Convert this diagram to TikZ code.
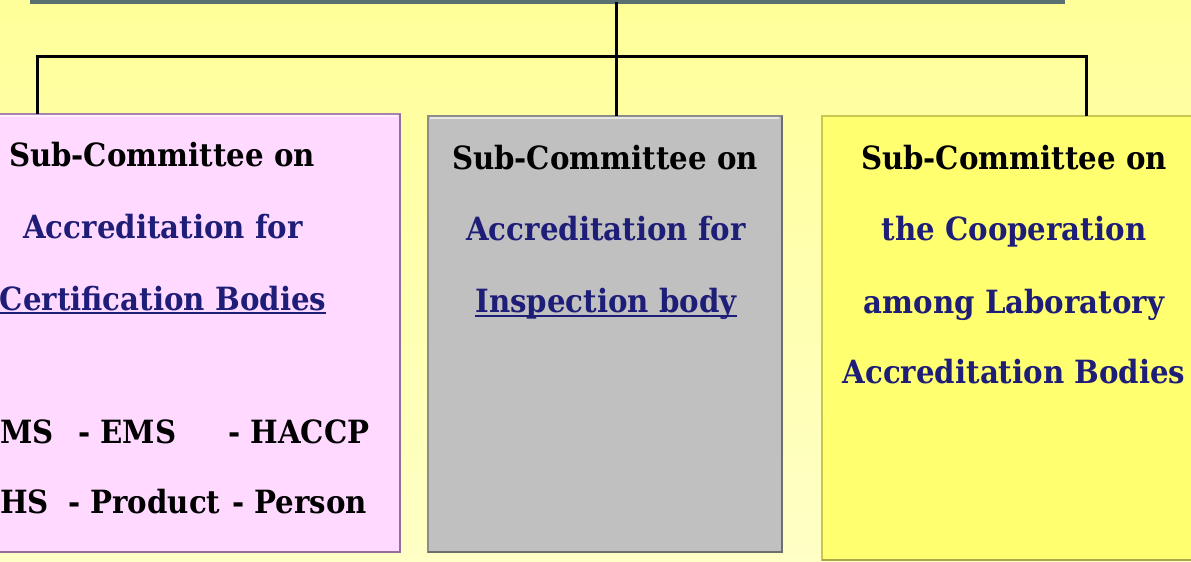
\documentclass[tikz,border=0pt]{standalone}
\usepackage{fontspec}
\newfontfamily\boxfont{DejaVu Serif}[FakeStretch=0.914]
\definecolor{bgtop}{RGB}{255,255,153}
\definecolor{bgbot}{RGB}{255,255,198}
\definecolor{topline}{RGB}{88,112,112}
\definecolor{pinkfill}{RGB}{255,217,255}
\definecolor{pinkedge}{RGB}{170,130,175}
\definecolor{pinkdark}{RGB}{150,110,155}
\definecolor{grayfill}{RGB}{192,192,192}
\definecolor{grayedge}{RGB}{140,140,140}
\definecolor{graydark}{RGB}{110,110,110}
\definecolor{yelfill}{RGB}{255,255,112}
\definecolor{yeledge}{RGB}{200,200,80}
\definecolor{yeldark}{RGB}{168,168,72}
\definecolor{navytext}{RGB}{30,30,120}
\tikzset{
  panel/.style={rectangle, inner sep=0pt, outer sep=0pt, anchor=north west, line width=1.2pt},
  wire/.style={line width=3pt, black},
  txt/.style={font=\boxfont\bfseries\fontsize{32}{32}\selectfont, inner sep=0pt, anchor=base},
  navy/.style={txt, text=navytext},
  ul/.style={line width=1.3pt, navytext},
}
\begin{document}
\begin{tikzpicture}[x=1pt, y=-1pt]
\useasboundingbox (0,0) rectangle (1191,562);
\shade[top color=bgtop, bottom color=bgbot] (0,0) rectangle (1191,562);

% top box (only its lower edge is visible)
\node[panel, draw=topline, fill=bgtop, line width=3.5pt, minimum width=1031pt, minimum height=40pt, anchor=south west] (top) at (32,2) {};

% panels
\node[panel, draw=pinkedge, fill=pinkfill, minimum width=460pt, minimum height=438pt] (pink) at (-60,114) {};
\node[panel, draw=grayedge, fill=grayfill, minimum width=354pt, minimum height=436pt] (gray) at (428,116) {};
\node[panel, draw=yeledge, fill=yelfill, minimum width=420pt, minimum height=444pt] (yellow) at (822,116) {};
% bevel shadows
\draw[pinkdark, line width=2.5pt] (pink.north east) -- (pink.south east) -- (pink.south west);
\draw[graydark, line width=2.5pt] (gray.north east) -- (gray.south east) -- (gray.south west);
\draw[yeldark, line width=2.5pt] (yellow.south west) -- (yellow.south east);
\draw[white, line width=1.5pt, opacity=0.6] ([yshift=-2pt]pink.north west) -- ([xshift=-3pt,yshift=-2pt]pink.north east);
\draw[white, line width=1.5pt, opacity=0.6] ([xshift=2pt,yshift=-2pt]gray.north west) -- ([xshift=-3pt,yshift=-2pt]gray.north east);

% connectors
\coordinate (jc) at (616,56);
\coordinate (jl) at (37,56);
\coordinate (jr) at (1086,56);
\draw[wire] (top.south -| jc) -- (gray.north -| jc);
\draw[wire] (pink.north -| jl) -- (jl) -- (jr) -- (yellow.north -| jr);

% pink texts
\node[txt] (p1) at (162,166) {Sub-Committee on};
\node[navy] (p2) at (163,238) {Accreditation for};
\node[navy] (p3) at (163,310) {Certification Bodies};
\draw[ul] ([yshift=-3pt]p3.base west) -- ([yshift=-3pt]p3.base east);
\node[txt, anchor=base west] (p4a) at (0,443) {MS};
\node[txt, anchor=base west] (p4b) at (78,443) {- EMS};
\node[txt, anchor=base west] (p4c) at (228,443) {- HACCP};
\node[txt, anchor=base west] (p5a) at (0,513) {HS};
\node[txt, anchor=base west] (p5b) at (68,513) {- Product};
\node[txt, anchor=base west] (p5c) at (232,513) {- Person};

% gray texts
\node[txt] (g1) at (605,169) {Sub-Committee on};
\node[navy] (g2) at (606,240) {Accreditation for};
\node[navy] (g3) at (606,312) {Inspection body};
\draw[ul] ([yshift=-4pt]g3.base west) -- ([yshift=-4pt]g3.base east);

% yellow texts
\node[txt] (y1) at (1014,169) {Sub-Committee on};
\node[navy] (y2) at (1014,240) {the Cooperation};
\node[navy] (y3) at (1014,313) {among Laboratory};
\node[navy] (y4) at (1014,383) {Accreditation Bodies};
\end{tikzpicture}
\end{document}
